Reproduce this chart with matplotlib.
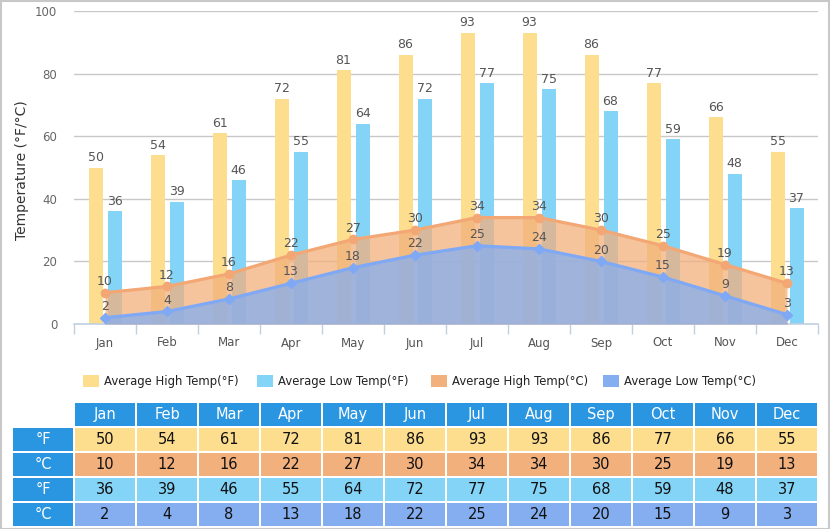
import numpy as np
import matplotlib
matplotlib.use("Agg")
import matplotlib.pyplot as plt
from matplotlib.patches import Rectangle

months = ["Jan", "Feb", "Mar", "Apr", "May", "Jun", "Jul", "Aug", "Sep", "Oct", "Nov", "Dec"]
high_f = [50, 54, 61, 72, 81, 86, 93, 93, 86, 77, 66, 55]
low_f = [36, 39, 46, 55, 64, 72, 77, 75, 68, 59, 48, 37]
high_c = [10, 12, 16, 22, 27, 30, 34, 34, 30, 25, 19, 13]
low_c = [2, 4, 8, 13, 18, 22, 25, 24, 20, 15, 9, 3]
legend_labels = ["Average High Temp(°F)", "Average Low Temp(°F)",
                 "Average High Temp(°C)", "Average Low Temp(°C)"]
row_labels = ["°F", "°C", "°F", "°C"]
y_ticks = [0, 20, 40, 60, 80, 100]

C_HF = "#FDDD8E"
C_LF = "#84D4F8"
C_HC = "#F2B07D"
C_LC = "#84AEF0"
C_HEAD = "#2A96E2"

W, H = 830, 529
fig = plt.figure(figsize=(W / 100, H / 100), dpi=100)
plt.rcParams['font.family'] = ['DejaVu Sans']

def fx(px):
    return px / W

def fy(py):
    return 1 - py / H

ax = fig.add_axes([fx(74), fy(324), fx(818) - fx(74), fy(11) - fy(324)])
x = np.arange(len(months))
bw = 14 / 62
off = 9.5 / 62

ax.bar(x - off, high_f, width=bw, color=C_HF, zorder=2)
ax.bar(x + off, low_f, width=bw, color=C_LF, zorder=2)

ax.fill_between(x, 0, high_c, color=C_HC, alpha=0.75, lw=0, zorder=3)
ax.plot(x, high_c, color="#F3A774", lw=2.3, zorder=4, marker='o', ms=6, mfc="#F3A774", mec="#F3A774")
ax.fill_between(x, 0, low_c, color=C_LC, alpha=0.75, lw=0, zorder=3.5)
ax.plot(x, low_c, color="#7FA8F5", lw=2.3, zorder=4.5, marker='D', ms=5, mfc="#7FA8F5", mec="#7FA8F5")

lab_kw = dict(textcoords="offset points", ha='center', va='bottom', fontsize=9, color="#555555", zorder=6)
for i in range(len(months)):
    ax.annotate(str(high_f[i]), (x[i] - off, high_f[i]), xytext=(0, 2.5), **lab_kw)
    ax.annotate(str(low_f[i]), (x[i] + off, low_f[i]), xytext=(0, 2.5), **lab_kw)
    ax.annotate(str(high_c[i]), (x[i], high_c[i]), xytext=(0, 3.5), **lab_kw)
    ax.annotate(str(low_c[i]), (x[i], low_c[i]), xytext=(0, 3.5), **lab_kw)

ax.set_xlim(-0.5, len(months) - 0.5)
ax.set_ylim(0, 100)
ax.set_yticks(y_ticks)
ax.set_yticklabels([str(v) for v in y_ticks])
ax.tick_params(axis='y', length=0, pad=12, labelsize=8.5, labelcolor="#666666")
ax.grid(axis='y', color="#C8C8C8", lw=1, zorder=0)
ax.set_axisbelow(True)

ax.set_xticks(np.arange(-0.5, len(months), 1))
ax.set_xticklabels([])
ax.tick_params(axis='x', which='major', length=7, color="#C0D0E0", width=1)
ax.set_xticks(x, minor=True)
ax.set_xticklabels(months, minor=True)
ax.tick_params(axis='x', which='minor', length=0, pad=9, labelsize=8.5, labelcolor="#555555")

for s in ["top", "right", "left"]:
    ax.spines[s].set_visible(False)
ax.spines["bottom"].set_color("#C0D0E0")
ax.spines["bottom"].set_linewidth(1.2)

fig.text(fx(22), fy(170), "Temperature (°F/°C)", rotation=90, ha='center', va='center',
         fontsize=10, color="#333333")

# legend
leg_x = [83, 257, 431, 603]
leg_c = [C_HF, C_LF, C_HC, C_LC]
for lx, lc, lt in zip(leg_x, leg_c, legend_labels):
    fig.add_artist(Rectangle((fx(lx), fy(387)), fx(16), 12 / H, transform=fig.transFigure,
                             color=lc, lw=0))
    fig.text(fx(lx + 21), fy(381), lt, ha='left', va='center', fontsize=8.4, color="#222222")

# table
col_w, pitch = 60, 62
row_h, rpitch = 23, 25
x0 = 75
y_head = 403
for j, m in enumerate(months):
    cx = x0 + j * pitch
    fig.add_artist(Rectangle((fx(cx), fy(y_head + row_h)), fx(col_w), row_h / H,
                             transform=fig.transFigure, color=C_HEAD, lw=0))
    fig.text(fx(cx + col_w / 2), fy(y_head + row_h / 2), m, ha='center', va='center',
             fontsize=10.5, color="white")

rows = [high_f, high_c, low_f, low_c]
row_colors = [C_HF, C_HC, C_LF, C_LC]
for r, (vals, rc, rl) in enumerate(zip(rows, row_colors, row_labels)):
    ry = y_head + (r + 1) * rpitch
    fig.add_artist(Rectangle((fx(13), fy(ry + row_h)), fx(col_w), row_h / H,
                             transform=fig.transFigure, color=C_HEAD, lw=0))
    fig.text(fx(13 + col_w / 2), fy(ry + row_h / 2), rl, ha='center', va='center',
             fontsize=10.5, color="white")
    for j, v in enumerate(vals):
        cx = x0 + j * pitch
        fig.add_artist(Rectangle((fx(cx), fy(ry + row_h)), fx(col_w), row_h / H,
                                 transform=fig.transFigure, color=rc, lw=0))
        fig.text(fx(cx + col_w / 2), fy(ry + row_h / 2), str(v), ha='center', va='center',
                 fontsize=10.5, color="#111111")

fig.add_artist(Rectangle((0.5 / W, 0.5 / H), 1 - 1.5 / W, 1 - 1.5 / H, transform=fig.transFigure,
                         fill=False, edgecolor="#C8C8C8", lw=1.5))

fig.savefig("out.png", dpi=100)
